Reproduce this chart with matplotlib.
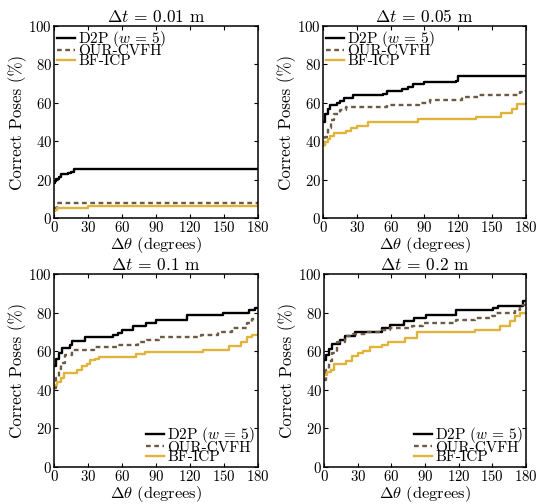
import matplotlib
matplotlib.use('Agg')
import matplotlib.pyplot as plt

# Correct poses (%) vs. rotation threshold, for four translation thresholds.
# Each curve is a step function given as (angle, value) breakpoints.

titles = [r'$\Delta t$ = 0.01 m', r'$\Delta t$ = 0.05 m',
          r'$\Delta t$ = 0.1 m', r'$\Delta t$ = 0.2 m']
labels = [r'D2P ($w$ = 5)', 'OUR-CVFH', 'BF-ICP']

# dt = 0.01 m
d2p_01_x = [0, 1, 2, 4, 6, 12, 15, 18, 180]
d2p_01_y = [18, 19.5, 20.5, 21.5, 22.8, 23.6, 24.2, 25.3, 25.3]
cvfh_01_x = [0, 3, 180]
cvfh_01_y = [5, 7.6, 7.6]
icp_01_x = [0, 1, 3, 30, 180]
icp_01_y = [3.8, 4.2, 5, 6.2, 6.2]

# dt = 0.05 m
d2p_05_x = [0, 2, 4, 6, 12, 15, 19, 27, 53, 57, 70, 75, 80, 90, 118, 120, 180]
d2p_05_y = [50, 54, 57, 59, 60, 61, 62.5, 63.8, 64.5, 66, 67, 68, 70, 71, 71.5, 74, 74]
cvfh_05_x = [0, 2, 4, 7, 10, 15, 20, 57, 85, 95, 123, 138, 175, 180]
cvfh_05_y = [38, 42, 47, 51, 54, 56, 57.6, 58.9, 60, 61.5, 62.8, 64, 65.5, 66.7]
icp_05_x = [0, 2, 4, 6, 10, 20, 25, 30, 40, 84, 136, 158, 168, 172, 180]
icp_05_y = [38, 39.5, 41, 42.5, 44, 45.2, 46.7, 47.9, 50.2, 51.4, 52.8, 54.5, 57, 59.2, 59.2]

# dt = 0.1 m
d2p_1_x = [0, 2, 4, 7, 14, 16, 27, 52, 56, 60, 70, 81, 90, 117, 149, 172, 177, 180]
d2p_1_y = [52.5, 56, 59, 61.7, 63.4, 65.1, 67.4, 68.5, 69.5, 71.2, 72.9, 74.6, 76, 78.6, 79.8, 81.2, 82.4, 82.4]
cvfh_1_x = [0, 2, 4, 6, 10, 16, 35, 56, 74, 82, 93, 130, 145, 157, 170, 175, 180]
cvfh_1_y = [41, 46, 51, 54, 58, 60.8, 62.2, 63.4, 64.6, 66, 67.4, 68.6, 70, 72, 74.6, 76.7, 76.7]
icp_1_x = [0, 3, 6, 9, 20, 25, 29, 32, 36, 40, 72, 80, 131, 154, 165, 170, 175, 180]
icp_1_y = [42.7, 44, 46, 48.8, 50.2, 52.2, 53.5, 55.3, 56.2, 57, 58.3, 59.4, 60.8, 62.9, 65, 67.4, 68.6, 68.6]

# dt = 0.2 m
d2p_2_x = [0, 2, 4, 7, 14, 19, 28, 52, 59, 71, 80, 91, 118, 151, 155, 177, 180]
d2p_2_y = [55.3, 58, 61, 63.9, 66, 67.7, 70, 72, 73.8, 75.5, 77.2, 78.9, 81.2, 82.4, 83.6, 85.8, 85.8]
cvfh_2_x = [0, 2, 4, 7, 12, 19, 26, 37, 52, 59, 78, 88, 118, 135, 150, 152, 170, 175, 180]
cvfh_2_y = [45.3, 50, 55, 59, 65, 67.7, 69, 70, 71.2, 72, 73.2, 74.6, 76, 77.2, 78.4, 79.8, 81.5, 84, 84]
icp_2_x = [0, 3, 6, 9, 20, 25, 30, 35, 41, 52, 57, 72, 83, 135, 157, 166, 170, 175, 180]
icp_2_y = [47.9, 49, 50.5, 53.6, 54.8, 57.4, 59, 60.3, 62.2, 63.4, 64.8, 66.9, 69.8, 71.2, 73.2, 75.5, 78, 79.8, 79.8]

panels = [
    [(d2p_01_x, d2p_01_y), (cvfh_01_x, cvfh_01_y), (icp_01_x, icp_01_y)],
    [(d2p_05_x, d2p_05_y), (cvfh_05_x, cvfh_05_y), (icp_05_x, icp_05_y)],
    [(d2p_1_x, d2p_1_y), (cvfh_1_x, cvfh_1_y), (icp_1_x, icp_1_y)],
    [(d2p_2_x, d2p_2_y), (cvfh_2_x, cvfh_2_y), (icp_2_x, icp_2_y)],
]

x_ticks = [0, 30, 60, 90, 120, 150, 180]
y_ticks = [0, 20, 40, 60, 80, 100]

colors = ['black', '#6b5a45', '#e0b43a']
styles = ['-', (0, (2, 1.5)), '-']

plt.rcParams['font.family'] = ['cmr10', 'DejaVu Serif']
plt.rcParams['mathtext.fontset'] = 'cm'
plt.rcParams['axes.formatter.use_mathtext'] = True

fig = plt.figure(figsize=(5.37, 5.04), dpi=100)

positions = [
    [0.1006, 0.5675, 0.380, 0.381],
    [0.6015, 0.5675, 0.378, 0.381],
    [0.1006, 0.0734, 0.380, 0.383],
    [0.6034, 0.0734, 0.376, 0.383],
]
legend_locs = ['upper left', 'upper left', 'lower right', 'lower right']

for i in range(4):
    ax = fig.add_axes(positions[i])
    for j in range(3):
        xs, ys = panels[i][j]
        ax.plot(xs, ys, drawstyle='steps-post', color=colors[j],
                linestyle=styles[j], linewidth=1.7, label=labels[j])
    ax.set_xlim(0, 180)
    ax.set_ylim(0, 100)
    ax.set_xticks(x_ticks)
    ax.set_yticks(y_ticks)
    ax.tick_params(direction='in', top=True, right=True, labelsize=10.7,
                   length=3, pad=1.5)
    for s in ax.spines.values():
        s.set_linewidth(1.1)
    ax.set_title(titles[i], fontsize=12.5, pad=3)
    ax.set_xlabel(r'$\Delta\theta$ (degrees)', fontsize=11.8, labelpad=0)
    ax.set_ylabel('Correct Poses (%)', fontsize=12.2, labelpad=1)
    ax.legend(loc=legend_locs[i], frameon=False, fontsize=11,
              handlelength=1.2, handletextpad=0.2, labelspacing=-0.28,
              borderaxespad=0.1, borderpad=0.1)

fig.savefig('out.png', dpi=100)
